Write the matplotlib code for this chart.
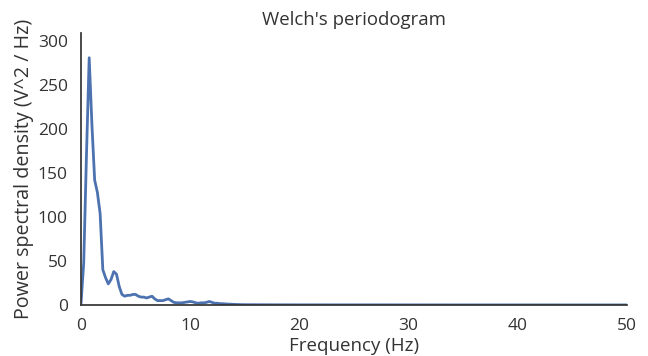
import numpy as np
import matplotlib
matplotlib.use('Agg')
import matplotlib.pyplot as plt
import seaborn as sns

# Welch PSD estimate, 0.25 Hz bins up to 15 Hz, coarser after that
freqs_low = [0.0, 0.25, 0.5, 0.75, 1.0, 1.25, 1.5, 1.75, 2.0, 2.25, 2.5, 2.75,
             3.0, 3.25, 3.5, 3.75, 4.0, 4.25, 4.5, 4.75, 5.0, 5.25, 5.5, 5.75,
             6.0, 6.25, 6.5, 6.75, 7.0, 7.25, 7.5, 7.75, 8.0, 8.25, 8.5, 8.75,
             9.0, 9.25, 9.5, 9.75, 10.0, 10.25, 10.5, 10.75, 11.0, 11.25, 11.5,
             11.75, 12.0, 12.25, 12.5, 12.75, 13.0, 13.25, 13.5, 13.75, 14.0,
             14.25, 14.5, 14.75, 15.0]
psd_low = [2, 48, 170, 281, 205, 142, 128, 104, 40, 31, 24, 29,
           38, 35, 21, 12, 10, 11, 11, 12, 12, 10, 9, 9,
           8, 9, 10, 7, 5, 5, 5, 6, 7, 5, 3, 2.5,
           2.5, 2.5, 3, 3.5, 4, 3.5, 2.5, 2, 2.5, 2.5, 3,
           4, 3, 2, 2, 1.5, 1.5, 1.2, 1.0, 0.9, 0.7,
           0.6, 0.5, 0.4, 0.35]
freqs_high = [16, 17, 18, 19, 20, 21, 22, 23, 24, 25, 26, 27, 28, 29, 30,
              31, 32, 33, 34, 35, 36, 37, 38, 39, 40, 41, 42, 43, 44, 45,
              46, 47, 48, 49, 50]
psd_high = [0.3, 0.25, 0.22, 0.2, 0.18, 0.17, 0.16, 0.15, 0.15, 0.14, 0.14,
            0.15, 0.14, 0.13, 0.12, 0.12, 0.11, 0.11, 0.1, 0.1, 0.1, 0.09,
            0.09, 0.09, 0.08, 0.08, 0.08, 0.08, 0.07, 0.07, 0.07, 0.07,
            0.06, 0.06, 0.05]

freqs = np.array(freqs_low + freqs_high)
psd = np.array(psd_low + psd_high)

sns.set(font_scale=1.2, style='white')
plt.rcParams['font.family'] = ['Open Sans', 'DejaVu Sans']
plt.rcParams['text.color'] = '#333333'
plt.rcParams['axes.labelcolor'] = '#333333'
plt.rcParams['xtick.color'] = '#333333'
plt.rcParams['ytick.color'] = '#333333'

fig = plt.figure(figsize=(6.48, 3.56), dpi=100)
ax = fig.add_axes([81/648, 51/356, 546/648, 272/356])
ax.plot(freqs, psd, color='#4c72b0', lw=2)
ax.set_xlabel('Frequency (Hz)', fontsize=13.5, labelpad=2)
ax.set_ylabel('Power spectral density (V^2 / Hz)', fontsize=14.2, labelpad=3)
ax.set_ylim([0, psd.max() * 1.1])
ax.set_xlim([0, freqs.max()])
ax.tick_params(labelsize=12.5)
ax.set_title("Welch's periodogram", fontsize=13.4)
for s in ax.spines.values():
    s.set_color('#333333')
sns.despine()
fig.savefig('out.png', dpi=100)
